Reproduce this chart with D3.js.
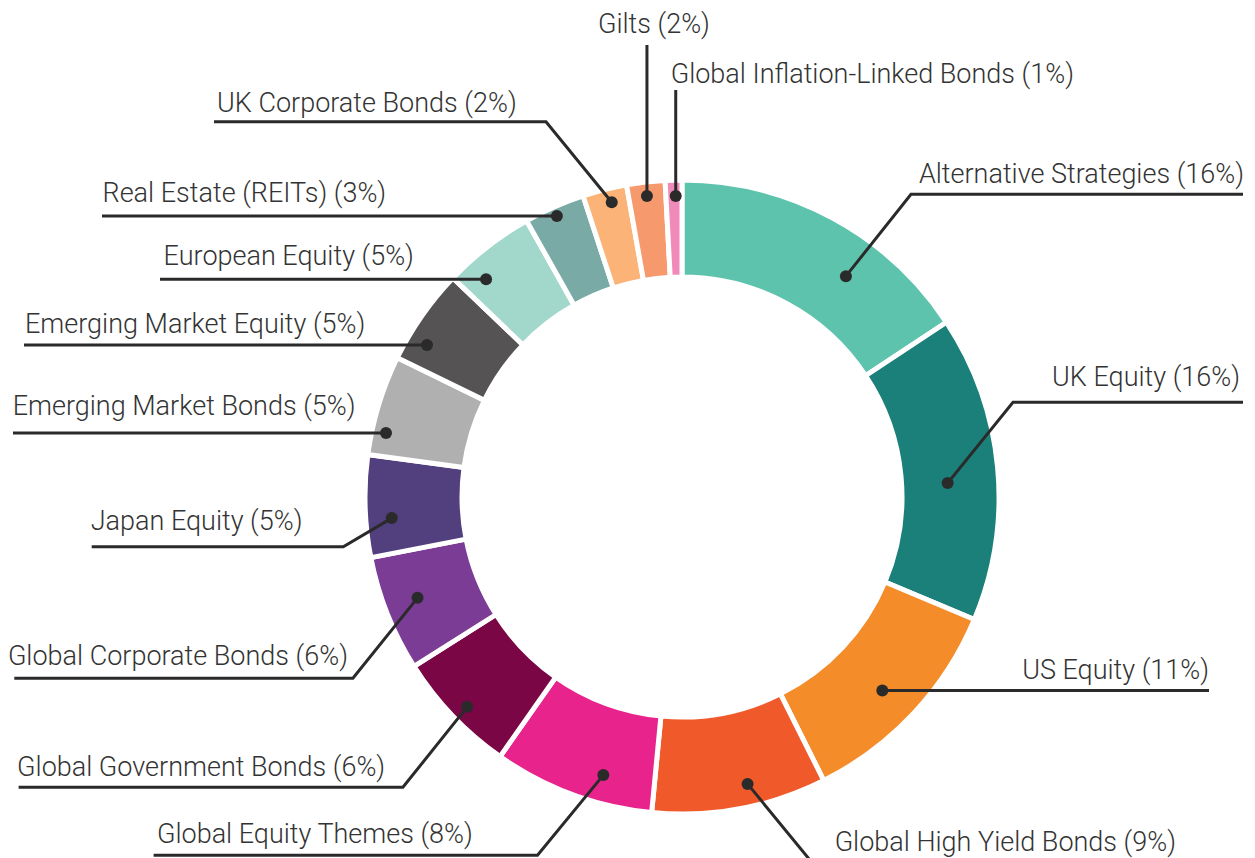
<!DOCTYPE html>
<html>
<head>
<meta charset="utf-8">
<script src="https://cdn.jsdelivr.net/npm/d3@7"></script>
<style>
  html, body { margin: 0; padding: 0; background: #fff; }
  svg { display: block; }
</style>
</head>
<body>
<svg id="chart" width="1255" height="858"></svg>
<script>
// asset classes, clockwise from 12 o'clock
var categories = [
  "Alternative Strategies", "UK Equity", "US Equity", "Global High Yield Bonds",
  "Global Equity Themes", "Global Government Bonds", "Global Corporate Bonds",
  "Japan Equity", "Emerging Market Bonds", "Emerging Market Equity",
  "European Equity", "Real Estate (REITs)", "UK Corporate Bonds", "Gilts",
  "Global Inflation-Linked Bonds"
];
// percentages as printed in the labels
var labelPct = [16, 16, 11, 9, 8, 6, 6, 5, 5, 5, 5, 3, 2, 2, 1];
// slice shares (unrounded)
var shares = [15.7, 15.6, 11.3, 8.9, 8.2, 6.3, 5.9, 5.2, 5.1, 4.9, 4.7, 3.1, 2.25, 1.95, 0.85];

var colors = [
  "#5dc3ad", "#1b8079", "#f48c2a", "#f05a2b", "#e8238c", "#7a0646", "#7b3c96",
  "#523f7d", "#b0b0b0", "#555354", "#a2d8cb", "#7aaaa6", "#fbb377", "#f69a6e", "#f08ab9"
];

// where each callout sits: dot at a fraction of the slice / radius, then the leader
var calloutLayout = [
  { frac: 0.647, r: 275, mode: "elbow", elbow: [911, 194.3], endX: 1243, anchor: "end", tx: 1244, ty: 183.3 },
  { frac: 0.542, r: 266, mode: "elbow", elbow: [1013, 402.3], endX: 1243, anchor: "end", tx: 1240, ty: 385.7 },
  { frac: 0.523, r: 278.6, mode: "h", endX: 1209, anchor: "end", tx: 1209, ty: 679.3 },
  { frac: 0.427, r: 294.3, mode: "elbow", elbow: [814, 865], endX: 1176, anchor: "end", tx: 1176, ty: 851 },
  { frac: 0.349, r: 289, mode: "elbow", elbow: [537.5, 855.3], endX: 153.6, anchor: "start", tx: 157, ty: 843.3 },
  { frac: 0.469, r: 300.3, mode: "elbow", elbow: [402.9, 787.3], endX: 18.6, anchor: "start", tx: 17.1, ty: 776 },
  { frac: 0.537, r: 283, mode: "elbow", elbow: [352.9, 678.3], endX: 14.3, anchor: "start", tx: 7.9, ty: 665 },
  { frac: 0.367, r: 291, mode: "elbow", elbow: [343.3, 546.7], endX: 91.7, anchor: "start", tx: 90.7, ty: 530 },
  { frac: 0.244, r: 302.8, mode: "h", endX: 13, anchor: "start", tx: 12.7, ty: 415 },
  { frac: 0.267, r: 296.8, mode: "h", endX: 24, anchor: "start", tx: 25, ty: 333 },
  { frac: 0.254, r: 292.9, mode: "h", endX: 160, anchor: "start", tx: 163.6, ty: 265 },
  { frac: 0.48, r: 307.7, mode: "h", endX: 102, anchor: "start", tx: 102.5, ty: 201.7 },
  { frac: 0.59, r: 303, mode: "elbow", elbow: [546, 121.7], endX: 214, anchor: "start", tx: 217, ty: 112.3 },
  { frac: 0.49, r: 303, mode: "v", topY: 45, anchor: "start", tx: 598, ty: 33 },
  { frac: 0.61, r: 301, mode: "v", topY: 90, anchor: "start", tx: 670.7, ty: 83 }
];

var cx = 682, cy = 497;
var outerR = 317, innerR = 220;

var rows = categories.map(function (c, i) {
  return { name: c, pct: labelPct[i], share: shares[i], color: colors[i], layout: calloutLayout[i] };
});

var svg = d3.select("#chart");
var g = svg.append("g").attr("transform", "translate(" + cx + "," + cy + ")");

var pie = d3.pie().sort(null).value(function (d) { return d.share; });
var arc = d3.arc().innerRadius(innerR).outerRadius(outerR);
var arcs = pie(rows);

g.selectAll("path.slice")
  .data(arcs)
  .enter()
  .append("path")
  .attr("class", "slice")
  .attr("d", arc)
  .attr("fill", function (d) { return d.data.color; })
  .attr("stroke", "#fff")
  .attr("stroke-width", 5);

function dotPos(d) {
  var L = d.data.layout;
  var a = d.startAngle + L.frac * (d.endAngle - d.startAngle);
  return [cx + L.r * Math.sin(a), cy - L.r * Math.cos(a)];
}

function leaderPoints(d) {
  var L = d.data.layout, p = dotPos(d);
  if (L.mode === "h") return [p, [L.endX, p[1]]];
  if (L.mode === "v") return [p, [p[0], L.topY]];
  return [p, L.elbow, [L.endX, L.elbow[1]]];
}

var line = d3.line();
var ink = "#2b2a2b";

svg.selectAll("path.leader")
  .data(arcs)
  .enter()
  .append("path")
  .attr("class", "leader")
  .attr("d", function (d) { return line(leaderPoints(d)); })
  .attr("fill", "none")
  .attr("stroke", ink)
  .attr("stroke-width", 3);

svg.selectAll("circle.dot")
  .data(arcs)
  .enter()
  .append("circle")
  .attr("class", "dot")
  .attr("cx", function (d) { return dotPos(d)[0]; })
  .attr("cy", function (d) { return dotPos(d)[1]; })
  .attr("r", 6)
  .attr("fill", ink);

svg.selectAll("text.label")
  .data(arcs)
  .enter()
  .append("text")
  .attr("class", "label")
  .attr("x", function (d) { return d.data.layout.tx; })
  .attr("y", function (d) { return d.data.layout.ty; })
  .attr("text-anchor", function (d) { return d.data.layout.anchor; })
  .text(function (d) { return d.data.name + " (" + d.data.pct + "%)"; })
  .attr("font-family", "Roboto, sans-serif")
  .attr("font-weight", 300)
  .attr("font-size", "27px")
  .attr("fill", "#333");
</script>
</body>
</html>
